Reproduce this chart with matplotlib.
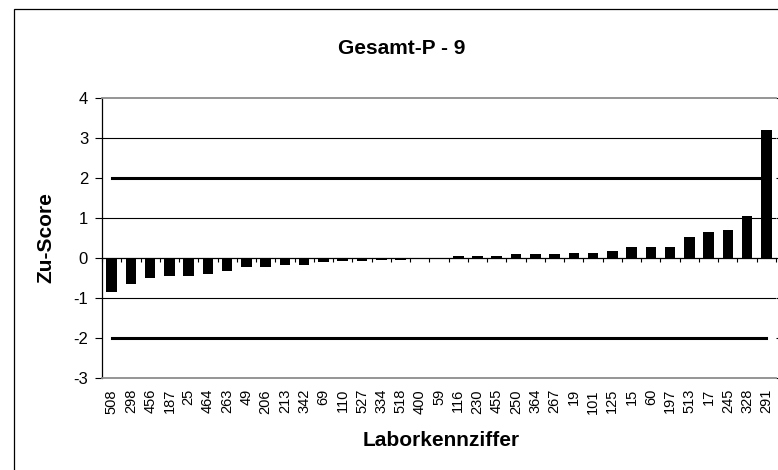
import numpy as np
import matplotlib
matplotlib.use("Agg")
import matplotlib.pyplot as plt
from matplotlib.patches import Rectangle

plt.rcParams['font.family'] = ['Liberation Sans', 'DejaVu Sans']

labs = ['508', '298', '456', '187', '25', '464', '263', '49', '206', '213',
        '342', '69', '110', '527', '334', '518', '400', '59', '116', '230',
        '455', '250', '364', '267', '19', '101', '125', '15', '60', '197',
        '513', '17', '245', '328', '291']
zu = [-0.86, -0.65, -0.51, -0.44, -0.44, -0.40, -0.33, -0.22, -0.22, -0.18,
      -0.18, -0.11, -0.08, -0.08, -0.06, -0.06, 0.0, 0.0, 0.05, 0.05,
      0.05, 0.10, 0.10, 0.10, 0.13, 0.13, 0.17, 0.27, 0.27, 0.27,
      0.52, 0.66, 0.71, 1.06, 3.20]
limit_hi = [2.0] * len(labs)
limit_lo = [-2.0] * len(labs)
yticks = [-3, -2, -1, 0, 1, 2, 3, 4]

W, H = 778, 470
fig = plt.figure(figsize=(W / 100, H / 100), dpi=100)
# chart frame (runs off the right and bottom edge)
fig.patches.append(Rectangle((14 / W, -0.1), 1.2, 1 - 9 / H + 0.1,
                             transform=fig.transFigure, fill=False,
                             edgecolor='black', linewidth=0.9))

ax = fig.add_axes([102 / W, 1 - 378 / H, 674 / W, 280 / H])
x = np.arange(len(labs))

for g in [3, 1, -1]:
    ax.axhline(g, color='black', lw=0.8, zorder=1)
ax.bar(x, zu, width=0.55, color='black', zorder=3)
ax.plot(x, limit_hi, color='black', lw=2.2, zorder=2)
ax.plot(x, limit_lo, color='black', lw=2.2, zorder=2)

ax.set_xlim(-0.5, len(labs) - 0.5)
ax.set_ylim(-3, 4)
ax.set_yticks(yticks)
ax.set_yticklabels([str(t) for t in yticks], fontsize=12)
ax.tick_params(axis='y', direction='out', length=5, width=0.8, pad=5)
ax.set_xticks(x)
ax.set_xticklabels(labs, rotation=90, fontsize=10.5)
ax.tick_params(axis='x', length=0, pad=8)

for side in ['top', 'bottom']:
    ax.spines[side].set_color('#8c8c8c')
    ax.spines[side].set_linewidth(1.3)
ax.spines['right'].set_visible(False)
ax.spines['left'].set_linewidth(0.9)

# zero line with category separator ticks
zx = ax.secondary_xaxis(3 / 7)
zx.set_xticks(np.arange(len(labs) + 1) - 0.5)
zx.tick_params(direction='out', length=3, width=0.8, labelbottom=False)
zx.spines['bottom'].set_linewidth(0.9)

ry = ax.secondary_yaxis('right')
ry.set_yticks(yticks)
ry.tick_params(direction='out', length=3, width=0.8, labelright=False)
ry.spines['right'].set_visible(False)

fig.text(402 / W, 1 - 53.5 / H, 'Gesamt-P - 9', fontsize=15,
         fontweight='bold', ha='center', va='baseline')
fig.text(441 / W, 1 - 446 / H, 'Laborkennziffer', fontsize=15,
         fontweight='bold', ha='center', va='baseline')
fig.text(46 / W, 1 - 238 / H, 'Zu-Score', fontsize=15, fontweight='bold',
         ha='center', va='center', rotation=90)

fig.savefig('out.png', dpi=100)
